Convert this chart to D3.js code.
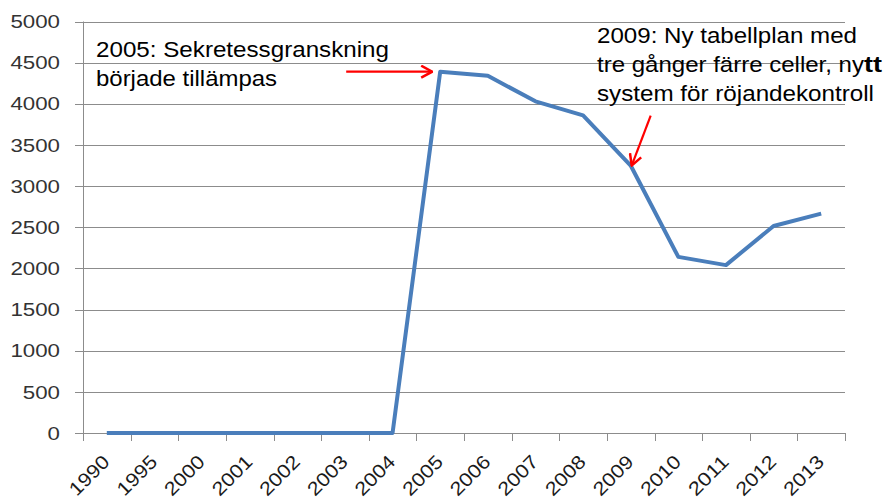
<!DOCTYPE html>
<html>
<head>
<meta charset="utf-8">
<script src="https://cdn.jsdelivr.net/npm/d3@7"></script>
<style>
  html, body { margin: 0; padding: 0; background: #fff; }
  svg { display: block; }
</style>
</head>
<body>
<svg id="chart" width="885" height="499"></svg>
<script>
const categories = ["1990","1995","2000","2001","2002","2003","2004","2005","2006","2007","2008","2009","2010","2011","2012","2013"];
const values = [0,0,0,0,0,0,0,4390,4340,4030,3860,3250,2140,2040,2515,2665];
const yTicks = [0,500,1000,1500,2000,2500,3000,3500,4000,4500,5000];
const note1 = ["2005: Sekretessgranskning", "började tillämpas"];
const note2 = ["2009: Ny tabellplan med", "tre gånger färre celler, ny", "system för röjandekontroll"];
const note2Bold = "tt";

const svg = d3.select("#chart");
const x = d3.scaleBand().domain(categories).range([83, 845]).padding(0);
const y = d3.scaleLinear().domain([0, 5000]).range([433, 21.5]);
const cx = c => x(c) + x.bandwidth() / 2;

// gridlines
svg.append("g").selectAll("line").data(yTicks).join("line")
  .attr("x1", 75).attr("x2", 845)
  .attr("y1", d => Math.round(y(d)) + 0.5).attr("y2", d => Math.round(y(d)) + 0.5)
  .attr("stroke", "#8c8c8c").attr("stroke-width", 1);

// y axis line
svg.append("line").attr("x1", 83.5).attr("x2", 83.5)
  .attr("y1", y(5000)).attr("y2", y(0)).attr("stroke", "#8c8c8c");

// y labels
svg.append("g").selectAll("text").data(yTicks).join("text")
  .attr("x", 60).attr("y", d => y(d)).attr("dy", "0.36em")
  .attr("text-anchor", "end")
  .attr("font-family", "Liberation Sans, Arial, sans-serif")
  .attr("font-size", 18.5).attr("fill", "#333")
  .attr("textLength", d => String(d).length * 12.4)
  .attr("lengthAdjust", "spacingAndGlyphs")
  .text(d => d);

// x tick marks
const tickPos = categories.map(c => x(c)).concat([x.range()[1]]);
svg.append("g").selectAll("line").data(tickPos).join("line")
  .attr("x1", d => Math.round(d) + 0.5).attr("x2", d => Math.round(d) + 0.5)
  .attr("y1", y(0)).attr("y2", y(0) + 8)
  .attr("stroke", "#8c8c8c");

// x labels
svg.append("g").selectAll("text").data(categories).join("text")
  .attr("transform", d => `translate(${cx(d) + 4},${y(0) + 30}) rotate(-45)`)
  .attr("text-anchor", "end")
  .attr("font-family", "Liberation Sans, Arial, sans-serif")
  .attr("font-size", 19).attr("fill", "#1a1a1a")
  .attr("textLength", 48).attr("lengthAdjust", "spacingAndGlyphs")
  .text(d => d);

// line
const line = d3.line().x((d, i) => cx(categories[i])).y(d => y(d));
svg.append("path").datum(values)
  .attr("d", line)
  .attr("fill", "none").attr("stroke", "#4a7ebb")
  .attr("stroke-width", 4).attr("stroke-linejoin", "round");

// arrows
const defs = svg.append("defs");
defs.append("marker").attr("id", "arr")
  .attr("viewBox", "-1 -7 13 14").attr("refX", 11).attr("refY", 0)
  .attr("markerWidth", 13).attr("markerHeight", 14)
  .attr("markerUnits", "userSpaceOnUse").attr("orient", "auto")
  .append("path").attr("d", "M0,-6 L11,0 L0,6")
  .attr("fill", "none").attr("stroke", "#ff0000").attr("stroke-width", 2.5);

const i05 = categories.indexOf("2005"), i09 = categories.indexOf("2009");
const a1end = [cx("2005") - 8, y(values[i05])];
svg.append("line")
  .attr("x1", a1end[0] - 86).attr("y1", a1end[1])
  .attr("x2", a1end[0]).attr("y2", a1end[1])
  .attr("stroke", "#ff0000").attr("stroke-width", 2.2).attr("marker-end", "url(#arr)");
const a2end = [cx("2009") + 1, y(values[i09])];
svg.append("line")
  .attr("x1", a2end[0] + 19).attr("y1", a2end[1] - 50)
  .attr("x2", a2end[0]).attr("y2", a2end[1])
  .attr("stroke", "#ff0000").attr("stroke-width", 2.2).attr("marker-end", "url(#arr)");

// annotations
const ann = svg.append("g").attr("font-family", "Liberation Sans, Arial, sans-serif")
  .attr("font-size", 22).attr("fill", "#000");
const n1w = [293, 181];
note1.forEach((t, i) => {
  ann.append("text").attr("x", 96).attr("y", 57 + i * 29.3)
    .attr("textLength", n1w[i]).attr("lengthAdjust", "spacingAndGlyphs").text(t);
});
const n2w = [260, 267, 277];
note2.forEach((t, i) => {
  ann.append("text").attr("x", 597).attr("y", 43.3 + i * 29)
    .attr("textLength", n2w[i]).attr("lengthAdjust", "spacingAndGlyphs").text(t);
});
ann.append("text").attr("x", 864).attr("y", 43.3 + 29)
  .attr("font-weight", "bold").attr("textLength", 18)
  .attr("lengthAdjust", "spacingAndGlyphs").text(note2Bold);
</script>
</body>
</html>
